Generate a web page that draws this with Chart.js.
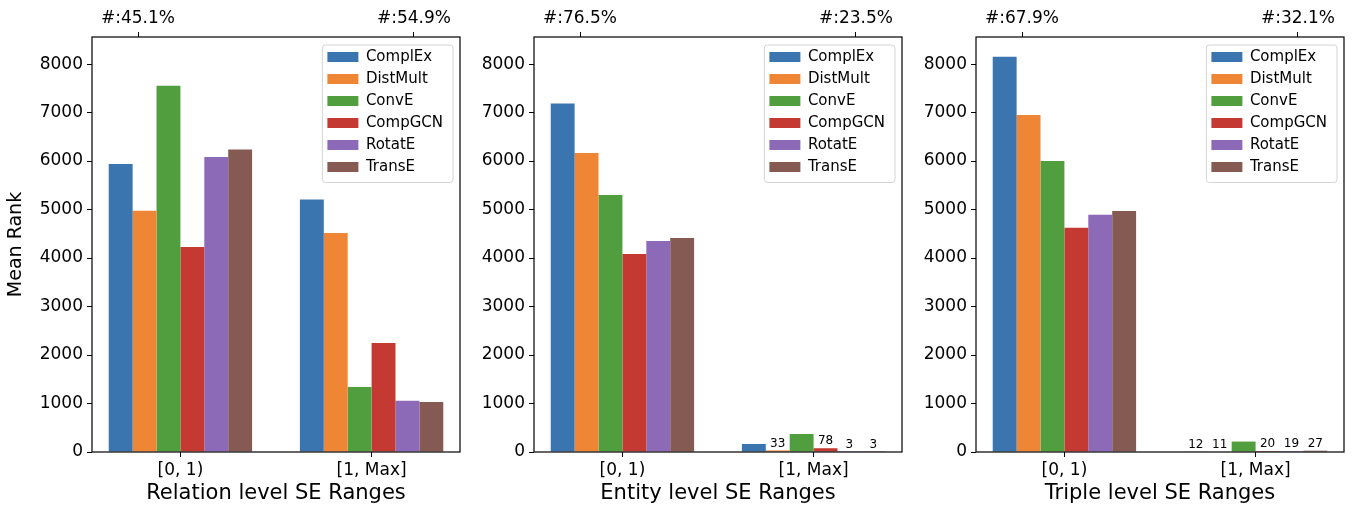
<!DOCTYPE html>
<html>
<head>
<meta charset="utf-8">
<script src="https://cdn.jsdelivr.net/npm/chart.js@4.4.0/dist/chart.umd.min.js"></script>
<style>
  body { margin: 0; width: 1352px; height: 506px; background: #fff; overflow: hidden; position: relative; }
  .panel { position: absolute; top: 0; width: 465px; height: 506px; }
</style>
</head>
<body>
<div class="panel" style="left:0px"><canvas id="c0" width="465" height="506"></canvas></div>
<div class="panel" style="left:442px"><canvas id="c1" width="465" height="506"></canvas></div>
<div class="panel" style="left:884px"><canvas id="c2" width="465" height="506"></canvas></div>
<script>
// models and ranges
const models = ["ComplEx", "DistMult", "ConvE", "CompGCN", "RotatE", "TransE"];
const modelColors = ["#3a75af", "#ef8636", "#519e3e", "#c43a33", "#8d6ab8", "#845a52"];
const ranges = ["[0, 1)", "[1, Max]"];

// mean rank per model, one array per SE range
const relationLow  = [5938, 4975, 7553, 4227, 6082, 6240];
const relationHigh = [5208, 4515, 1340, 2247, 1058, 1031];
const entityLow    = [7188, 6165, 5299, 4082, 4351, 4412];
const entityHigh   = [165, 33, 371, 78, 3, 3];
const tripleLow    = [8151, 6948, 6000, 4625, 4893, 4969];
const tripleHigh   = [12, 11, 215, 20, 19, 27];

// share of samples in each range (top axis labels)
const relationShare = ["#:45.1%", "#:54.9%"];
const entityShare   = ["#:76.5%", "#:23.5%"];
const tripleShare   = ["#:67.9%", "#:32.1%"];

const yTicks = [0, 1000, 2000, 3000, 4000, 5000, 6000, 7000, 8000];

const panels = [
  { id: "c0", low: relationLow, high: relationHigh, share: relationShare, xTitle: "Relation level SE Ranges", yTitle: "Mean Rank" },
  { id: "c1", low: entityLow, high: entityHigh, share: entityShare, xTitle: "Entity level SE Ranges", yTitle: "" },
  { id: "c2", low: tripleLow, high: tripleHigh, share: tripleShare, xTitle: "Triple level SE Ranges", yTitle: "" }
];

Chart.defaults.font.family = "'DejaVu Sans', sans-serif";
Chart.defaults.color = "#000";

// shared y limit like matplotlib sharey + 5% margin
let allValues = [];
panels.forEach(p => { allValues = allValues.concat(p.low, p.high); });
const yMax = Math.max(...allValues) * 1.05;

// x limits: groups span 0.75 around each category, 5% margin
const groupSpan = 0.75;
const xLo = -groupSpan / 2, xHi = ranges.length - 1 + groupSpan / 2;
const xMin = xLo - 0.05 * (xHi - xLo);
const xMax = xHi + 0.05 * (xHi - xLo);

const framePlugin = {
  id: "frame",
  afterDatasetsDraw(chart) {
    const { ctx, chartArea: a } = chart;
    ctx.save();
    ctx.strokeStyle = "#000";
    ctx.lineWidth = 1.2;
    ctx.strokeRect(a.left, a.top, a.right - a.left, a.bottom - a.top);
    ctx.restore();
  }
};

// small numbers above the tiny bars
const valueLabels = {
  id: "valueLabels",
  afterDatasetsDraw(chart) {
    const ctx = chart.ctx;
    ctx.save();
    ctx.font = "12px 'DejaVu Sans', sans-serif";
    ctx.fillStyle = "#000";
    ctx.textAlign = "center";
    ctx.textBaseline = "bottom";
    chart.data.datasets.forEach((ds, di) => {
      chart.getDatasetMeta(di).data.forEach((bar, i) => {
        const v = ds.data[i].y;
        if (v < 100) ctx.fillText(String(v), bar.x, bar.y - 1);
      });
    });
    ctx.restore();
  }
};

// move legend to upper right inside the plot, draw a frame round it
const legendInside = {
  id: "legendInside",
  afterLayout(chart) {
    const lg = chart.legend, a = chart.chartArea;
    if (!lg || !lg.columnSizes) return;
    const pad = lg.options.labels.padding;
    lg.height = pad + lg.columnSizes[0].height;
    lg.left = a.right - lg.width - 7;
    lg.right = lg.left + lg.width;
    lg.top = a.top + 5.5;
    lg.bottom = lg.top + lg.height;
  },
  afterDraw(chart) {
    const lg = chart.legend;
    if (!lg) return;
    const ctx = chart.ctx;
    const x = lg.left + 2, y = lg.top + 2.5, w = lg.width - 2, h = lg.height - 1.5;
    ctx.save();
    ctx.strokeStyle = "#d4d4d4";
    ctx.lineWidth = 1;
    ctx.beginPath();
    ctx.roundRect(x, y, w, h, 3);
    ctx.stroke();
    ctx.restore();
  }
};

panels.forEach(p => {
  const datasets = models.map((m, k) => ({
    label: m,
    data: [p.low[k], p.high[k]].map((v, i) => ({ x: i, y: v })),
    backgroundColor: modelColors[k],
    borderWidth: 0,
    categoryPercentage: groupSpan,
    barPercentage: 1.0
  }));

  new Chart(document.getElementById(p.id), {
    type: "bar",
    data: { datasets: datasets },
    plugins: [framePlugin, valueLabels, legendInside],
    options: {
      responsive: false,
      animation: false,
      layout: { padding: { left: 0, right: 5, top: 0, bottom: 0 } },
      plugins: {
        tooltip: { enabled: false },
        legend: {
          position: "chartArea",
          align: "start",
          labels: { boxWidth: 31, boxHeight: 10, padding: 7, color: "#000", font: { size: 15 } }
        }
      },
      scales: {
        x: {
          type: "linear",
          position: "bottom",
          offset: false,
          bounds: "data",
          min: xMin,
          max: xMax,
          afterBuildTicks: s => { s.ticks = ranges.map((r, i) => ({ value: i })); },
          afterFit: s => { s.height = 54; },
          ticks: { callback: (v, i) => ranges[i], maxRotation: 0, font: { size: 17 }, color: "#000", padding: 3 },
          grid: { offset: false, drawOnChartArea: false, drawTicks: true, tickLength: 5, color: "#000" },
          border: { display: false },
          title: { display: true, text: p.xTitle, font: { size: 21 }, color: "#000", padding: { top: 0, bottom: 0 } }
        },
        x2: {
          type: "linear",
          position: "top",
          offset: false,
          bounds: "data",
          min: xMin,
          max: xMax,
          afterBuildTicks: s => {
            s.ticks = [0.125, 0.875].map(f => ({ value: xMin + f * (xMax - xMin) }));
          },
          afterFit: s => { s.height = 37; },
          ticks: { callback: (v, i) => p.share[i], maxRotation: 0, font: { size: 17 }, color: "#000", padding: 3 },
          grid: { offset: false, drawOnChartArea: false, drawTicks: true, tickLength: 5, color: "#000" },
          border: { display: false }
        },
        y: {
          min: 0,
          max: yMax,
          afterBuildTicks: s => { s.ticks = yTicks.map(v => ({ value: v })); },
          afterFit: s => { s.width = 92; },
          ticks: { callback: v => String(v), font: { size: 17 }, color: "#000", padding: 4 },
          grid: { drawOnChartArea: false, drawTicks: true, tickLength: 5, color: "#000" },
          border: { display: false },
          title: { display: p.yTitle !== "", text: p.yTitle, font: { size: 19 }, color: "#000", padding: { top: 5, bottom: 0 } }
        }
      }
    }
  });
});
</script>
</body>
</html>
